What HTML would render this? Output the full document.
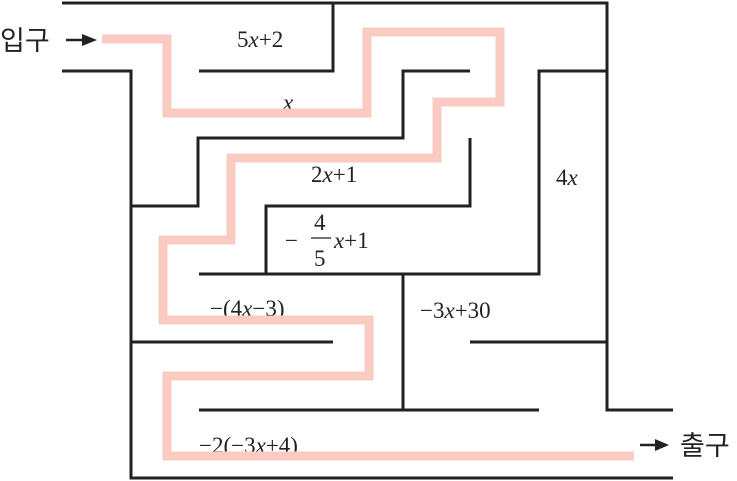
<!DOCTYPE html>
<html><head><meta charset="utf-8"><style>
html,body{margin:0;padding:0;background:#fff;}
svg{display:block}
</style></head><body>
<svg width="737" height="481" viewBox="0 0 737 481" xmlns="http://www.w3.org/2000/svg">
<g font-family="Liberation Serif, serif" font-size="23" fill="#222">
<text x="237" y="47">5<tspan font-style="italic">x</tspan>+2</text>
<text x="283" y="110" font-style="italic">x</text>
<text x="311" y="182">2<tspan font-style="italic">x</tspan>+1</text>
<text x="556" y="185">4<tspan font-style="italic">x</tspan></text>
<text x="285" y="248">−</text>
<text x="314" y="230">4</text>
<line x1="311" y1="238" x2="331" y2="238" stroke="#222" stroke-width="1.3"/>
<text x="314" y="266">5</text>
<text x="334" y="248"><tspan font-style="italic">x</tspan>+1</text>
<text x="210" y="316">−(4<tspan font-style="italic">x</tspan>−3)</text>
<text x="420" y="318">−3<tspan font-style="italic">x</tspan>+30</text>
<text x="199" y="453">−2(−3<tspan font-style="italic">x</tspan>+4)</text>
</g>
<polyline fill="none" stroke="#f9cbc3" stroke-width="9" points="102,39 167,39 167,113 367,113 367,32 500,32 500,102 437,102 437,158 231,158 231,240 163,240 163,320 369,320 369,376 167,376 167,456 634,456"/>
<g fill="none" stroke="#222" stroke-width="3">
<polyline points="62,3 607,3 607,410 673,410"/>
<polyline points="333,3 333,71 199,71"/>
<polyline points="62,71 131,71 131,478 673,478"/>
<polyline points="131,206 198,206 198,138 403,138 403,71 470,71"/>
<polyline points="470,138 470,206 266,206 266,274"/>
<polyline points="199,274 539,274 539,71 607,71"/>
<line x1="403" y1="274" x2="403" y2="410"/>
<line x1="199" y1="410" x2="539" y2="410"/>
<line x1="131" y1="342" x2="333" y2="342"/>
<line x1="470" y1="342" x2="607" y2="342"/>
</g>
<text x="0" y="50" font-family="Liberation Sans, Noto Sans CJK KR, sans-serif" font-size="27" fill="#222">입구</text>
<line x1="66" y1="40" x2="86" y2="40" stroke="#222" stroke-width="2.5"/>
<polygon points="97,40 82,34 82,46" fill="#222"/>
<line x1="640" y1="445" x2="658" y2="445" stroke="#222" stroke-width="2.5"/>
<polygon points="669,445 655,439 655,451" fill="#222"/>
<text x="680" y="455" font-family="Liberation Sans, Noto Sans CJK KR, sans-serif" font-size="27" fill="#222">출구</text>
</svg>
</body></html>
